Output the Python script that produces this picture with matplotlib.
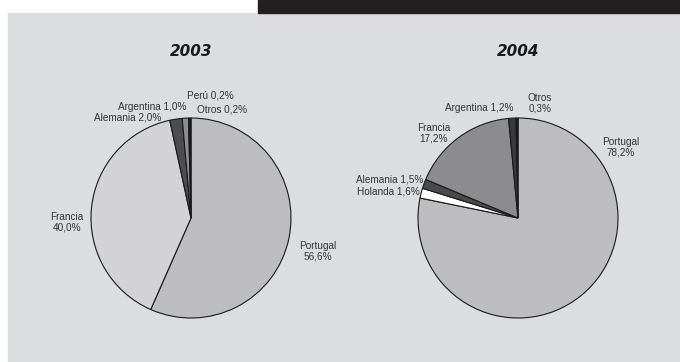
import matplotlib.pyplot as plt
from matplotlib.patches import Rectangle

plt.rcParams["font.family"] = ["Liberation Sans", "DejaVu Sans"]

# Data
labels_2003 = ["Portugal", "Francia", "Alemania", "Argentina", "Perú", "Otros"]
values_2003 = [56.6, 40.0, 2.0, 1.0, 0.2, 0.2]
colors_2003 = ["#bdbdc0", "#d3d3d5", "#4d4d4f", "#8e8e90", "#5a5a5c", "#1e1e1e"]

labels_2004 = ["Portugal", "Holanda", "Alemania", "Francia", "Argentina", "Otros"]
values_2004 = [78.2, 1.6, 1.5, 17.2, 1.2, 0.3]
colors_2004 = ["#bdbdc0", "#ffffff", "#4a4a4c", "#8c8c8e", "#3a3a3c", "#141414"]

# label text positions (pie radius = 1)
text_2003 = {
    "Portugal": ("Portugal\n56,6%", 1.27, -0.33, "center"),
    "Francia": ("Francia\n40,0%", -1.24, -0.04, "center"),
    "Alemania": ("Alemania 2,0%", -0.30, 1.00, "right"),
    "Argentina": ("Argentina 1,0%", -0.04, 1.11, "right"),
    "Perú": ("Perú 0,2%", 0.19, 1.22, "center"),
    "Otros": ("Otros 0,2%", 0.31, 1.09, "center"),
}
text_2004 = {
    "Portugal": ("Portugal\n78,2%", 1.03, 0.71, "center"),
    "Holanda": ("Holanda 1,6%", -0.98, 0.26, "right"),
    "Alemania": ("Alemania 1,5%", -0.95, 0.39, "right"),
    "Francia": ("Francia\n17,2%", -0.84, 0.85, "center"),
    "Argentina": ("Argentina 1,2%", -0.39, 1.10, "center"),
    "Otros": ("Otros\n0,3%", 0.22, 1.15, "center"),
}

W, H = 680, 362
fig = plt.figure(figsize=(W / 100, H / 100), dpi=100, facecolor="white")

# background panel and dark header bar
fig.patches.append(Rectangle((8 / W, 0), 1 - 8 / W, (H - 13) / H,
                             transform=fig.transFigure, color="#dcdddf", zorder=-10))
fig.patches.append(Rectangle((258 / W, 1 - 13 / H), 1 - 258 / W, 13 / H,
                             transform=fig.transFigure, color="#231f20", zorder=-10))


def draw_pie(cx, cy, r, values, colors, labels, texts, title):
    half = 1.6 * r
    ax = fig.add_axes([(cx - half) / W, (H - cy - half) / H, 2 * half / W, 2 * half / H])
    ax.pie(values, colors=colors, startangle=90, counterclock=False,
           wedgeprops={"edgecolor": "#1a1a1a", "linewidth": 0.8})
    ax.set_xlim(-1.6, 1.6)
    ax.set_ylim(-1.6, 1.6)
    ax.set_aspect("equal")
    ax.axis("off")
    for lab in labels:
        txt, x, y, ha = texts[lab]
        ax.text(x, y, txt, ha=ha, va="center", fontsize=7.2, color="#333333",
                linespacing=1.1)
    ax.text(0, 1.66, title, ha="center", va="center", fontsize=11,
            fontweight="bold", fontstyle="italic", color="#1a1a1a",
            family="DejaVu Sans")


draw_pie(191, 218, 100, values_2003, colors_2003, labels_2003, text_2003, "2003")
draw_pie(518, 218, 100, values_2004, colors_2004, labels_2004, text_2004, "2004")

fig.savefig("out.png", dpi=100, facecolor="white")
